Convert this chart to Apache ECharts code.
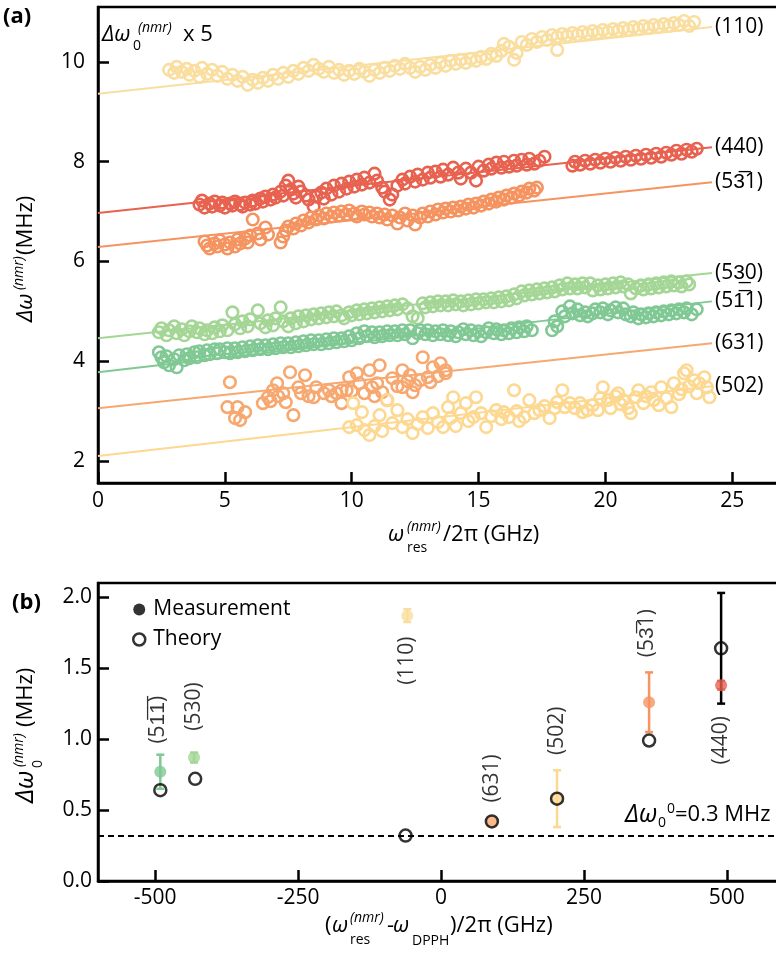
<!DOCTYPE html>
<html>
<head>
<meta charset="utf-8">
<script src="https://cdn.jsdelivr.net/npm/echarts@6/dist/echarts.min.js"></script>
<style>html,body{margin:0;padding:0;background:#fff;overflow:hidden}#chart{width:776px;height:955px}</style>
</head>
<body>
<div id="chart"></div>
<script>
var FONT = "'Open Sans', sans-serif";

// ---- panel (a): linewidth vs resonance frequency ----
var names = ['(110)', '(440)', '(53\u03051)', '(53\u03320)', '(51\u03051)', '(631)', '(502)'];
var colors = ['#F9DE9F', '#E86250', '#F59460', '#A4D696', '#80C894', '#F7A870', '#FDD891'];
var fitX = 24.2;
var fitStart = [9.36, 6.97, 6.29, 4.46, 3.78, 3.06, 2.10];
var fitEnd = [10.70, 8.29, 7.59, 5.77, 5.20, 4.36, 3.50];

var pts110 = [[2.8,9.84],[3.0,9.78],[3.1,9.90],[3.3,9.80],[3.5,9.86],[3.6,9.74],[3.8,9.82],[4.0,9.70],[4.1,9.88],[4.3,9.76],[4.5,9.84],[4.7,9.72],[4.9,9.80],[5.1,9.66],[5.3,9.74],[5.5,9.62],[5.7,9.70],[5.9,9.54],[6.1,9.64],[6.3,9.58],[6.5,9.68],[6.7,9.62],[6.9,9.74],[7.1,9.66],[7.3,9.78],[7.5,9.70],[7.7,9.82],[7.9,9.76],[8.1,9.88],[8.3,9.82],[8.5,9.94],[8.7,9.86],[8.9,9.80],[9.1,9.90],[9.3,9.78],[9.5,9.84],[9.7,9.74],[9.9,9.82],[10.1,9.76],[10.3,9.86],[10.5,9.80],[10.7,9.72],[10.9,9.84],[11.1,9.78],[11.3,9.88],[11.5,9.82],[11.7,9.92],[11.9,9.86],[12.1,9.96],[12.3,9.88],[12.5,9.80],[12.7,9.90],[12.9,9.84],[13.1,9.94],[13.3,9.88],[13.5,9.98],[13.7,9.92],[13.9,10.02],[14.1,9.96],[14.3,10.04],[14.5,9.98],[14.7,10.06],[14.9,10.02],[15.1,10.10],[15.3,10.06],[15.5,10.16],[15.7,10.12],[15.9,10.22],[16.0,10.36],[16.2,10.30],[16.4,10.04],[16.5,10.18],[16.7,10.40],[16.9,10.34],[17.1,10.46],[17.3,10.40],[17.5,10.50],[17.7,10.44],[17.9,10.54],[18.1,10.24],[18.1,10.50],[18.3,10.56],[18.5,10.52],[18.7,10.58],[18.9,10.54],[19.1,10.60],[19.3,10.56],[19.5,10.62],[19.7,10.58],[19.9,10.64],[20.1,10.60],[20.3,10.66],[20.5,10.62],[20.7,10.68],[20.9,10.64],[21.1,10.70],[21.3,10.66],[21.5,10.72],[21.7,10.68],[21.9,10.74],[22.1,10.70],[22.3,10.76],[22.5,10.72],[22.7,10.78],[22.9,10.74],[23.1,10.82],[23.3,10.72],[23.5,10.80]];
var pts440 = [[4.0,7.14],[4.1,7.22],[4.2,7.08],[4.4,7.16],[4.5,7.10],[4.6,7.20],[4.8,7.12],[4.9,7.18],[5.0,7.08],[5.2,7.16],[5.3,7.12],[5.4,7.20],[5.6,7.14],[5.7,7.10],[5.8,7.18],[6.0,7.14],[6.1,7.22],[6.2,7.16],[6.4,7.26],[6.5,7.20],[6.6,7.30],[6.8,7.24],[6.9,7.34],[7.0,7.28],[7.2,7.40],[7.3,7.32],[7.4,7.52],[7.5,7.62],[7.6,7.44],[7.7,7.36],[7.8,7.28],[7.9,7.50],[8.0,7.40],[8.2,7.32],[8.3,7.24],[8.5,7.10],[8.6,7.30],[8.8,7.38],[8.9,7.26],[9.0,7.46],[9.2,7.34],[9.3,7.52],[9.5,7.40],[9.6,7.56],[9.8,7.46],[9.9,7.60],[10.1,7.50],[10.2,7.64],[10.4,7.54],[10.5,7.68],[10.7,7.58],[10.9,7.76],[11.0,7.62],[11.2,7.48],[11.3,7.40],[11.5,7.24],[11.6,7.34],[11.8,7.52],[12.0,7.64],[12.1,7.56],[12.3,7.70],[12.5,7.60],[12.6,7.74],[12.8,7.64],[13.0,7.78],[13.1,7.68],[13.3,7.80],[13.5,7.70],[13.6,7.84],[13.8,7.74],[14.0,7.88],[14.2,7.78],[14.3,7.66],[14.5,7.86],[14.7,7.78],[14.9,7.62],[15.0,7.90],[15.2,7.82],[15.4,7.94],[15.5,7.86],[15.7,7.98],[15.9,7.88],[16.0,8.00],[16.2,7.90],[16.4,8.02],[16.5,7.92],[16.7,8.04],[16.9,7.94],[17.0,8.06],[17.2,7.96],[17.4,8.02],[17.6,8.10],[18.7,7.92],[18.8,8.00],[19.0,7.94],[19.2,8.02],[19.4,7.96],[19.6,8.04],[19.8,7.98],[20.0,8.06],[20.2,8.00],[20.4,8.08],[20.6,8.02],[20.8,8.10],[21.0,8.04],[21.2,8.12],[21.4,8.06],[21.6,8.14],[21.8,8.08],[22.0,8.16],[22.2,8.10],[22.4,8.18],[22.6,8.14],[22.8,8.22],[23.0,8.16],[23.2,8.24],[23.4,8.20],[23.6,8.26]];
var pts531 = [[4.2,6.40],[4.3,6.32],[4.4,6.26],[4.6,6.36],[4.7,6.30],[4.8,6.42],[5.0,6.34],[5.1,6.26],[5.2,6.38],[5.4,6.30],[5.5,6.44],[5.6,6.36],[5.8,6.46],[5.9,6.38],[6.0,6.52],[6.1,6.84],[6.3,6.56],[6.4,6.44],[6.6,6.68],[6.7,6.54],[7.2,6.38],[7.3,6.50],[7.4,6.62],[7.5,6.70],[7.7,6.66],[7.8,6.76],[8.0,6.72],[8.1,6.82],[8.3,6.78],[8.4,6.88],[8.6,6.84],[8.7,6.92],[8.9,6.86],[9.0,6.96],[9.2,6.90],[9.3,6.98],[9.5,6.92],[9.6,7.00],[9.8,6.94],[9.9,7.02],[10.1,6.96],[10.2,6.90],[10.4,7.00],[10.5,6.94],[10.7,6.98],[10.8,6.90],[11.0,6.96],[11.1,6.88],[11.3,6.94],[11.4,6.84],[11.6,6.92],[11.8,6.76],[11.9,6.88],[12.1,6.96],[12.2,6.82],[12.4,6.92],[12.5,6.74],[12.7,6.88],[12.8,6.96],[13.0,6.90],[13.1,7.00],[13.3,6.94],[13.4,7.04],[13.6,6.98],[13.7,7.06],[13.9,7.00],[14.0,7.08],[14.2,7.02],[14.3,7.10],[14.5,7.06],[14.6,7.14],[14.8,7.08],[14.9,7.16],[15.1,7.12],[15.2,7.20],[15.4,7.16],[15.5,7.24],[15.7,7.20],[15.8,7.28],[16.0,7.24],[16.1,7.32],[16.3,7.28],[16.4,7.36],[16.6,7.32],[16.7,7.40],[16.9,7.38],[17.0,7.46],[17.2,7.42],[17.3,7.48]];
var pts530 = [[2.4,4.58],[2.5,4.66],[2.7,4.52],[2.8,4.62],[3.0,4.70],[3.1,4.56],[3.3,4.64],[3.4,4.52],[3.6,4.60],[3.7,4.70],[3.9,4.58],[4.0,4.66],[4.2,4.54],[4.3,4.62],[4.5,4.56],[4.6,4.68],[4.8,4.60],[4.9,4.72],[5.1,4.62],[5.3,4.98],[5.4,4.74],[5.6,4.66],[5.7,4.80],[5.9,4.70],[6.0,4.84],[6.3,5.02],[6.4,4.76],[6.6,4.68],[6.7,4.82],[6.9,4.72],[7.0,4.86],[7.2,5.08],[7.3,4.80],[7.5,4.70],[7.6,4.86],[7.8,4.76],[7.9,4.90],[8.1,4.80],[8.2,4.92],[8.4,4.84],[8.5,4.94],[8.7,4.86],[8.8,4.96],[9.0,4.88],[9.1,4.98],[9.3,4.90],[9.4,5.00],[9.6,4.92],[9.7,4.86],[9.9,4.98],[10.0,4.92],[10.2,5.02],[10.3,4.94],[10.5,5.04],[10.6,4.96],[10.8,5.06],[10.9,4.98],[11.1,5.08],[11.2,5.00],[11.4,5.10],[11.5,5.02],[11.7,5.12],[11.8,5.04],[12.0,5.14],[12.2,5.06],[12.4,4.90],[12.6,4.86],[12.8,5.16],[12.9,5.08],[13.1,5.18],[13.2,5.10],[13.4,5.20],[13.5,5.12],[13.7,5.20],[13.8,5.12],[14.0,5.22],[14.1,5.14],[14.3,5.20],[14.4,5.12],[14.6,5.22],[14.7,5.14],[14.9,5.24],[15.0,5.16],[15.2,5.24],[15.3,5.18],[15.5,5.26],[15.6,5.18],[15.8,5.28],[15.9,5.20],[16.1,5.30],[16.2,5.22],[16.4,5.34],[16.5,5.26],[16.7,5.40],[16.8,5.32],[17.0,5.42],[17.1,5.34],[17.3,5.44],[17.4,5.36],[17.6,5.46],[17.7,5.38],[17.9,5.48],[18.0,5.40],[18.2,5.52],[18.3,5.44],[18.5,5.56],[18.6,5.46],[18.8,5.54],[18.9,5.46],[19.1,5.56],[19.2,5.48],[19.4,5.56],[19.5,5.42],[19.7,5.52],[19.8,5.44],[20.0,5.54],[20.1,5.46],[20.3,5.56],[20.4,5.48],[20.6,5.58],[20.7,5.50],[20.9,5.54],[21.0,5.36],[21.2,5.46],[21.4,5.52],[21.5,5.44],[21.7,5.54],[21.8,5.46],[22.0,5.56],[22.1,5.48],[22.3,5.58],[22.4,5.50],[22.6,5.60],[22.7,5.52],[22.9,5.58],[23.0,5.50],[23.2,5.60],[23.3,5.54]];
var pts511 = [[2.4,4.18],[2.5,4.08],[2.6,3.98],[2.7,4.10],[2.8,3.92],[3.0,4.04],[3.1,3.88],[3.2,4.12],[3.4,4.02],[3.5,4.14],[3.6,4.06],[3.8,4.18],[3.9,4.08],[4.0,4.20],[4.2,4.12],[4.3,4.22],[4.4,4.14],[4.6,4.24],[4.7,4.16],[4.8,4.24],[5.0,4.18],[5.1,4.26],[5.2,4.16],[5.4,4.26],[5.5,4.18],[5.7,4.28],[5.8,4.20],[6.0,4.30],[6.1,4.22],[6.3,4.32],[6.4,4.24],[6.6,4.32],[6.7,4.24],[6.9,4.34],[7.0,4.26],[7.2,4.36],[7.3,4.28],[7.5,4.36],[7.6,4.28],[7.8,4.38],[7.9,4.30],[8.1,4.40],[8.2,4.32],[8.4,4.42],[8.5,4.34],[8.7,4.42],[8.8,4.34],[9.0,4.44],[9.1,4.36],[9.3,4.46],[9.4,4.38],[9.6,4.46],[9.7,4.40],[9.9,4.50],[10.0,4.42],[10.2,4.56],[10.3,4.46],[10.5,4.60],[10.6,4.50],[10.8,4.58],[10.9,4.48],[11.1,4.58],[11.2,4.50],[11.4,4.60],[11.5,4.52],[11.7,4.60],[11.8,4.52],[12.0,4.62],[12.1,4.54],[12.3,4.62],[12.4,4.46],[12.6,4.56],[12.7,4.62],[12.9,4.54],[13.0,4.62],[13.2,4.52],[13.3,4.60],[13.5,4.54],[13.6,4.62],[13.8,4.52],[13.9,4.60],[14.1,4.50],[14.2,4.58],[14.4,4.64],[14.5,4.54],[14.7,4.62],[14.8,4.52],[15.0,4.60],[15.1,4.50],[15.3,4.58],[15.4,4.66],[15.6,4.56],[15.7,4.64],[15.9,4.54],[16.0,4.62],[16.2,4.56],[16.3,4.66],[16.5,4.58],[16.6,4.68],[16.8,4.60],[16.9,4.70],[17.1,4.62],[17.9,4.62],[18.0,4.80],[18.1,4.70],[18.3,5.00],[18.4,4.90],[18.6,5.10],[18.7,4.96],[18.9,5.04],[19.0,4.92],[19.2,4.98],[19.3,4.90],[19.5,4.96],[19.6,5.04],[19.8,4.98],[19.9,5.06],[20.1,4.94],[20.2,5.02],[20.4,5.08],[20.5,4.98],[20.7,5.06],[20.8,4.94],[21.0,4.90],[21.1,4.98],[21.3,4.86],[21.4,4.94],[21.6,4.88],[21.7,4.96],[21.9,4.90],[22.0,4.98],[22.2,4.92],[22.3,5.00],[22.5,4.94],[22.6,5.02],[22.8,4.96],[22.9,5.04],[23.1,4.98],[23.2,5.06],[23.4,4.94],[23.6,5.04]];
var pts631 = [[5.1,3.08],[5.2,3.58],[5.4,2.86],[5.5,3.08],[5.6,2.82],[5.8,2.98],[6.5,3.16],[6.7,3.28],[6.8,3.20],[6.9,3.42],[7.06,3.56],[7.1,3.30],[7.3,3.36],[7.4,3.18],[7.57,3.78],[7.7,2.92],[7.9,3.48],[8.0,3.36],[8.16,3.72],[8.3,3.30],[8.5,3.28],[8.6,3.48],[8.9,3.36],[9.1,3.42],[9.2,3.30],[9.4,3.36],[9.6,3.16],[9.6,3.42],[9.8,3.42],[9.9,3.68],[10.0,3.40],[10.2,3.76],[10.3,3.56],[10.5,3.36],[10.7,3.82],[10.8,3.48],[10.9,3.30],[11.0,3.56],[11.1,3.92],[11.2,3.38],[11.4,3.22],[11.6,3.66],[11.8,3.50],[12.0,3.82],[12.0,3.48],[12.2,3.60],[12.3,3.72],[12.4,3.38],[12.5,3.52],[12.7,3.62],[12.8,4.08],[13.0,3.68],[13.1,3.58],[13.2,3.88],[13.4,3.70],[13.5,3.96],[13.7,3.76],[13.7,3.82]];
var pts502 = [[9.9,2.68],[10.06,3.16],[10.2,2.72],[10.4,2.98],[10.5,2.62],[10.7,2.52],[10.9,2.70],[11.1,2.92],[11.2,2.60],[11.4,3.22],[11.6,2.76],[11.8,3.02],[12.0,2.68],[12.2,2.84],[12.4,2.56],[12.6,2.74],[12.8,2.88],[13.0,2.66],[13.2,2.96],[13.4,2.78],[13.6,2.68],[13.8,3.08],[13.9,2.86],[14.0,3.28],[14.1,2.70],[14.3,2.96],[14.5,3.16],[14.6,2.80],[14.8,2.88],[14.9,3.28],[15.1,2.96],[15.3,2.68],[15.5,2.90],[15.7,3.02],[15.9,2.84],[16.0,2.98],[16.2,2.88],[16.4,3.42],[16.5,3.00],[16.6,2.80],[16.8,2.88],[17.0,3.22],[17.2,2.96],[17.4,3.02],[17.6,3.10],[17.8,2.86],[18.0,3.06],[18.1,3.18],[18.3,3.42],[18.4,3.08],[18.6,3.16],[18.8,3.06],[19.0,3.16],[19.1,2.98],[19.3,3.02],[19.5,3.12],[19.7,3.02],[19.8,3.26],[19.9,3.48],[20.1,3.22],[20.2,3.06],[20.4,3.30],[20.5,3.36],[20.6,3.14],[20.7,3.22],[20.9,3.06],[21.0,2.96],[21.2,3.28],[21.3,3.42],[21.5,3.16],[21.6,3.30],[21.8,3.38],[21.9,3.22],[22.1,3.12],[22.2,3.48],[22.4,3.26],[22.6,3.08],[22.7,3.56],[22.9,3.34],[23.0,3.44],[23.1,3.76],[23.2,3.82],[23.3,3.50],[23.5,3.62],[23.6,3.36],[23.7,3.56],[23.9,3.68],[24.0,3.48],[24.1,3.28]];
var topPts = [pts110, pts440, pts531, pts530, pts511, pts631, pts502];

var aXTicks = [0, 5, 10, 15, 20, 25];
var aYTicks = [2, 4, 6, 8, 10];

// ---- panel (b): zero-field linewidth per mode ----
var bNames = ['(51\u03051\u0305)', '(530)', '(110)', '(631)', '(502)', '(53\u03051)', '(440)'];
var bColors = ['#80C894', '#A4D696', '#F9DE9F', '#F7A870', '#FDD891', '#F59460', '#E86250'];
var measX = [-491, -432, -59, 89, 203, 364, 490];
var measY = [0.77, 0.87, 1.87, 0.42, 0.58, 1.26, 1.38];
var measErr = [0.12, 0.035, 0.045, 0, 0.20, 0.21, 0.03];
var thX = [-491, -430, -62, 89, 203, 364, 490];
var thY = [0.64, 0.72, 0.32, 0.42, 0.58, 0.99, 1.64];
var thErr = [0, 0, 0, 0, 0, 0, 0.39];
var baseline = 0.32;
var bXTicks = [-500, -250, 0, 250, 500];
var bYTicks = [0, 0.5, 1.0, 1.5, 2.0];

// label offsets for rotated mode names in (b), px
var labShift = [[-2,-52],[0,-51],[0,45],[0,-43],[0,-68],[-2,-69],[0,55]];

function axisBase(grid, ticks, fmt) {
    return {
        gridIndex: grid,
        type: 'value',
        axisLine: {show: true, onZero: false, lineStyle: {color: '#000', width: 2.5}},
        axisTick: {show: true, inside: true, length: 11, customValues: ticks, lineStyle: {color: '#000', width: 2.5}},
        axisLabel: {customValues: ticks, color: '#000', fontSize: 21, fontFamily: FONT, formatter: fmt},
        splitLine: {show: false}
    };
}

function txt(x, y, s, size, st) {
    return {
        type: 'text', x: x, y: y, silent: true,
        style: {text: s, font: (st || '') + ' ' + size + 'px ' + FONT, fill: '#000',
                verticalAlign: 'middle', textVerticalAlign: 'middle'}
    };
}

var series = [];
topPts.forEach(function (pts, i) {
    series.push({
        type: 'line', xAxisIndex: 0, yAxisIndex: 0, z: 1,
        data: [[0, fitStart[i]], [fitX, fitEnd[i]]],
        symbol: 'none', silent: true,
        lineStyle: {color: colors[i], width: 2},
        endLabel: {show: true, formatter: names[i], color: '#000', fontSize: 21, fontFamily: FONT, distance: 3}
    });
    series.push({
        type: 'scatter', xAxisIndex: 0, yAxisIndex: 0, z: 2,
        data: pts, symbol: 'circle', symbolSize: 11.5,
        itemStyle: {color: 'rgba(0,0,0,0)', borderColor: colors[i], borderWidth: 2.6, opacity: 1}
    });
});

// error bars
var errData = [];
measX.forEach(function (x, i) {
    if (measErr[i] > 0) errData.push({value: [x, measY[i] - measErr[i], measY[i] + measErr[i]], itemStyle: {color: bColors[i]}});
});
thX.forEach(function (x, i) {
    if (thErr[i] > 0) errData.push({value: [x, thY[i] - thErr[i], thY[i] + thErr[i]], itemStyle: {color: '#000'}});
});
series.push({
    type: 'custom', xAxisIndex: 1, yAxisIndex: 1, z: 3, silent: true,
    data: errData,
    renderItem: function (params, api) {
        var x = api.value(0);
        var lo = api.coord([x, api.value(1)]);
        var hi = api.coord([x, api.value(2)]);
        var c = api.visual('color');
        var st = {stroke: c, lineWidth: 2.5};
        return {type: 'group', children: [
            {type: 'line', shape: {x1: lo[0], y1: lo[1], x2: hi[0], y2: hi[1]}, style: st},
            {type: 'line', shape: {x1: lo[0] - 4, y1: lo[1], x2: lo[0] + 4, y2: lo[1]}, style: st},
            {type: 'line', shape: {x1: hi[0] - 4, y1: hi[1], x2: hi[0] + 4, y2: hi[1]}, style: st}
        ]};
    }
});

series.push({
    name: 'Measurement', type: 'scatter', xAxisIndex: 1, yAxisIndex: 1, z: 4,
    symbol: 'circle', symbolSize: 12, itemStyle: {color: '#000'},
    data: measX.map(function (x, i) { return {value: [x, measY[i]], itemStyle: {color: bColors[i]}}; })
});
series.push({
    name: 'Theory', type: 'scatter', xAxisIndex: 1, yAxisIndex: 1, z: 5,
    symbol: 'circle', symbolSize: 12,
    itemStyle: {color: 'rgba(0,0,0,0)', borderColor: '#000', borderWidth: 2.5},
    data: thX.map(function (x, i) { return [x, thY[i]]; }),
    markLine: {
        silent: true, symbol: 'none', label: {show: false},
        lineStyle: {color: '#000', width: 2, type: [6, 4]},
        data: [{yAxis: baseline}]
    }
});
series.push({
    type: 'scatter', xAxisIndex: 1, yAxisIndex: 1, z: 6, silent: true,
    symbolSize: 0,
    data: measX.map(function (x, i) {
        return {value: [x, measY[i]], label: {offset: [-labShift[i][1], labShift[i][0]]}};
    }),
    label: {
        show: true, position: 'inside', rotate: 90, color: '#000', fontSize: 21, fontFamily: FONT,
        formatter: function (p) { return bNames[p.dataIndex]; }
    }
});

var ax0 = axisBase(0, aXTicks); ax0.min = 0; ax0.max = 27;
var ay0 = axisBase(0, aYTicks); ay0.min = 1.56; ay0.max = 11.1;
ay0.axisLabel.margin = 13;
ax0.axisLabel.margin = 8;
var ax1 = axisBase(1, bXTicks); ax1.min = -600; ax1.max = 600;
ax1.axisLabel.margin = 7;
var ay1 = axisBase(1, bYTicks, function (v) { return v.toFixed(1); }); ay1.min = 0; ay1.max = 2.1;
ay1.axisLabel.margin = 6;

var option = {
    backgroundColor: '#fff',
    animation: false,
    grid: [
        {left: 98, top: 7, width: 685, height: 476, containLabel: false, outerBoundsMode: 'none',
         show: true, borderColor: '#000', borderWidth: 2.5, backgroundColor: 'rgba(0,0,0,0)'},
        {left: 98, top: 583, width: 686, height: 298, containLabel: false, outerBoundsMode: 'none',
         show: true, borderColor: '#000', borderWidth: 2.5, backgroundColor: 'rgba(0,0,0,0)'}
    ],
    xAxis: [ax0, ax1],
    yAxis: [ay0, ay1],
    legend: {
        data: [
            {name: 'Measurement', icon: 'circle', itemStyle: {color: '#000', borderWidth: 0}},
            {name: 'Theory', icon: 'circle', itemStyle: {color: '#fff', borderColor: '#000', borderWidth: 2.5}}
        ],
        orient: 'vertical', left: 127, top: 594, itemGap: 9,
        itemWidth: 12, itemHeight: 12,
        textStyle: {color: '#000', fontSize: 21, fontFamily: FONT, padding: [0, 0, 0, 3]},
        selectedMode: false
    },
    graphic: [
        txt(3, 17, '(a)', 22, 'bold'),
        txt(12, 603, '(b)', 22, 'bold'),
        txt(102, 35, '\u0394\u03c9', 22, 'italic'), txt(133, 46, '0', 14), txt(138, 28, '(nmr)', 14, 'italic'), txt(183, 35, 'x 5', 22),
        txt(388, 535, '\u03c9', 22, 'italic'), txt(407, 527, '(nmr)', 14, 'italic'), txt(407, 548, 'res', 14), txt(443, 535, '/2\u03c0 (GHz)', 22),
        txt(325, 926, '(', 22), txt(332, 926, '\u03c9', 22, 'italic'), txt(350, 918, '(nmr)', 14, 'italic'), txt(350, 940, 'res', 14),
        txt(387, 926, '-', 22), txt(393, 926, '\u03c9', 22, 'italic'), txt(412, 941, 'DPPH', 14), txt(450, 926, ')/2\u03c0 (GHz)', 22),
        txt(625, 815, '\u0394\u03c9', 25, 'italic'), txt(658, 823, '0', 14), txt(667, 809, '0', 14), txt(675, 815, '=0.3 MHz', 22),
        {type: 'group', x: 26, y: 322, rotation: Math.PI / 2, children: [
            txt(0, 0, '\u0394\u03c9', 22, 'italic'), txt(32, -7, '(nmr)', 14, 'italic'), txt(67, 0, '(MHz)', 22)
        ]},
        {type: 'group', x: 26, y: 803, rotation: Math.PI / 2, children: [
            txt(0, 0, '\u0394\u03c9', 25, 'italic'), txt(35, 12, '0', 14), txt(36, -7, '(nmr)', 14, 'italic'), txt(76, 0, '(MHz)', 22)
        ]}
    ],
    series: series
};

echarts.init(document.getElementById('chart'), null, {renderer: 'canvas'}).setOption(option);
</script>
</body>
</html>
